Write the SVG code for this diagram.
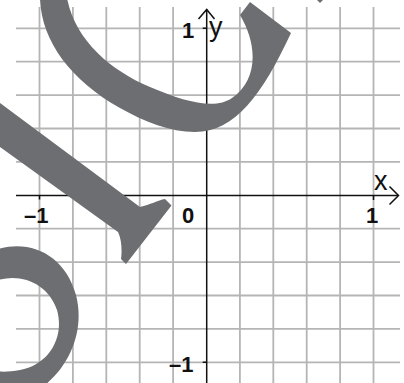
<svg xmlns="http://www.w3.org/2000/svg" width="404" height="383" viewBox="0 0 404 383">
  <style>
    .grid { stroke: #b5b5b5; stroke-width: 1.8; fill: none; }
    .axis { stroke: #111; stroke-width: 1.5; fill: none; }
    .num { font-family: "Liberation Sans", Arial, sans-serif; font-size: 22px; font-weight: bold; fill: #111; }
    .var { font-family: "Liberation Sans", Arial, sans-serif; font-size: 27px; fill: #111; }
    .mark { fill: #6d6e71; }
  </style>
  <rect width="404" height="383" fill="#fff"/>
  <g id="grid" class="grid">
    <path d="M39.5,7V383 M72.9,7V383 M106.3,7V383 M139.7,7V383 M173.1,7V383 M239.9,7V383 M273.3,7V383 M306.7,7V383 M340.1,7V383 M373.5,7V383"/>
    <path d="M16,28.3H400 M16,61.7H400 M16,95.1H400 M16,128.5H400 M16,161.9H400 M16,228.7H400 M16,262.1H400 M16,295.5H400 M16,328.9H400 M16,362.3H400"/>
  </g>
  <g id="axes" class="axis">
    <path d="M16,195.5H398"/>
    <path d="M206.7,383V9.5"/>
    <polyline points="198.5,19 206.7,9.5 214.5,19"/>
    <polyline points="389.5,186.5 398.5,195.5 389.5,204.5"/>
    <path d="M39.5,195.5V199.5 M373.5,195.5V200 M202.7,28.3H206.7 M202.7,362.3H206.7"/>
  </g>
  <g id="labels">
    <text class="num" x="182" y="38">1</text>
    <text class="var" x="209" y="36">y</text>
    <text class="var" x="374" y="190">x</text>
    <text class="num" x="24" y="223">–1</text>
    <text class="num" x="182" y="223">0</text>
    <text class="num" x="366" y="223">1</text>
    <text class="num" x="169" y="372">–1</text>
  </g>
  <g id="watermark" class="mark">
    <path d="M40,-2 C41,40 70,80 120,108 C145,122 170,132 195,132 C235,132 262,95 291,33 L250,2 L240,15 C258,45 258,80 232,98 C215,110 185,102 150,87 C110,70 75,40 67,-2 Z"/>
    <path d="M-10,95.6 L140,207 C150,205 158,200 165,199 L171.5,205.5 L126,264 L121,259 C122,252 122,240 118,232 L-10,139.8 Z"/>
    <path fill-rule="evenodd" d="M-5,250 C30,238 65,255 76,295 C85,330 70,365 45,385 L-5,385 Z M-5,281 C20,272 48,283 57,310 C65,338 48,365 20,370 C10,372 0,372 -5,371 Z"/>
    <path d="M316,-1 L324,-1 L320,3 Z"/>
  </g>
</svg>
